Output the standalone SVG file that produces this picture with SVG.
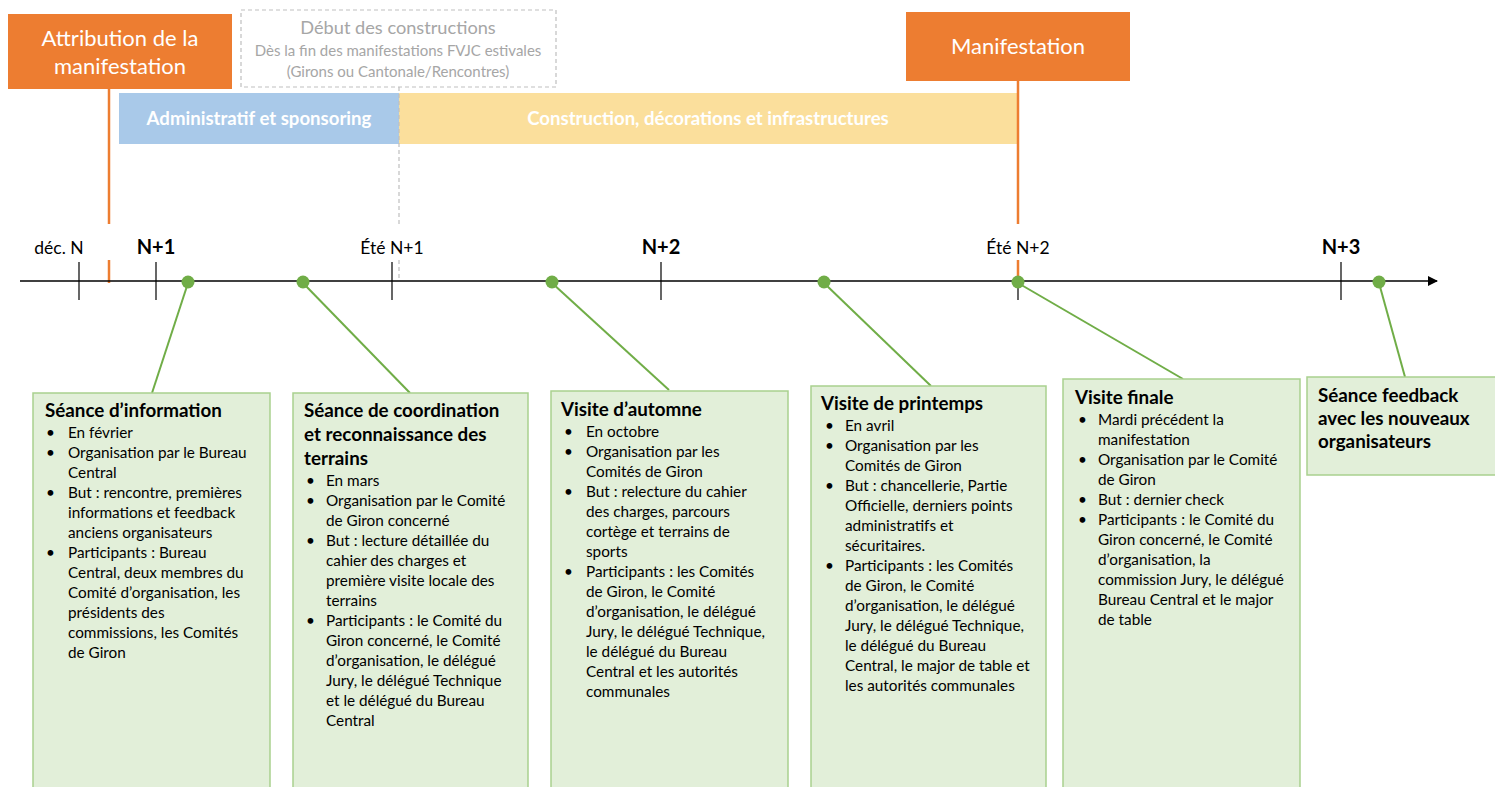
<svg xmlns="http://www.w3.org/2000/svg" width="1495" height="787" viewBox="0 0 1495 787">
<style>
text{font-family:Lato,"Liberation Sans",sans-serif;}
.box{fill:#e2efd9;stroke:#a9d18e;stroke-width:1.5;}
.t{font-size:18.8px;font-weight:bold;fill:#000;}
.b{font-size:15.3px;fill:#000;}
.hdr{font-size:22px;fill:#fff;text-anchor:middle;}
.bar{font-size:18.6px;font-weight:bold;fill:#fff;text-anchor:middle;}
.gray{fill:#a6a6a6;text-anchor:middle;}
.lbl{font-size:17.5px;fill:#000;text-anchor:middle;}
.yr{font-size:20px;font-weight:bold;fill:#000;text-anchor:middle;}
.tick{stroke:#000;stroke-width:1.2;}
.or{stroke:#ed7d31;stroke-width:2.5;}
.dash{stroke:#bfbfbf;stroke-width:1.2;stroke-dasharray:4 3;fill:none;}
.con{stroke:#70ad47;stroke-width:2;}
.dot{fill:#70ad47;}
</style>
<defs>
<marker id="arr" viewBox="0 0 10 10" refX="9" refY="5" markerWidth="10" markerHeight="10" markerUnits="userSpaceOnUse" orient="auto">
<path d="M0,0 L10,5 L0,10 z" fill="#000"/>
</marker>
</defs>
<rect width="1495" height="787" fill="#fff"/>

<g id="phases">
<rect x="119" y="93" width="280" height="51" fill="#a9c9e9"/>
<text class="bar" x="259" y="125">Administratif et sponsoring</text>
<rect x="399" y="93" width="619" height="51" fill="#fbdf9c"/>
<text class="bar" x="708" y="125">Construction, décorations et infrastructures</text>
</g>

<g id="attribution">
<rect x="8" y="14" width="224" height="75" fill="#ed7d31"/>
<text class="hdr" x="120" y="46">Attribution de la</text>
<text class="hdr" x="120" y="74">manifestation</text>
</g>

<g id="debut">
<rect class="dash" x="241" y="10" width="315" height="77"/>
<text class="gray" x="398" y="34" font-size="18.2">Début des constructions</text>
<text class="gray" x="398" y="56" font-size="15">Dès la fin des manifestations FVJC estivales</text>
<text class="gray" x="398" y="77" font-size="15">(Girons ou Cantonale/Rencontres)</text>
</g>

<g id="manifestation">
<rect x="906" y="12" width="224" height="69" fill="#ed7d31"/>
<text class="hdr" x="1018" y="54" font-size="20.6">Manifestation</text>
</g>

<g id="markers">
<line class="or" x1="109" y1="89" x2="109" y2="224"/>
<line class="or" x1="109" y1="260" x2="109" y2="283"/>
<line class="dash" x1="399" y1="87" x2="399" y2="224"/>
<line class="dash" x1="399" y1="260" x2="399" y2="281"/>
<line class="or" x1="1018" y1="81" x2="1018" y2="224"/>
<line class="or" x1="1018" y1="260" x2="1018" y2="281"/>
</g>

<g id="timeline">
<line x1="20" y1="281" x2="1437" y2="281" stroke="#000" stroke-width="1.3" marker-end="url(#arr)"/>
<line class="tick" x1="79" y1="262" x2="79" y2="300"/>
<line class="tick" x1="156" y1="262" x2="156" y2="300"/>
<line class="tick" x1="392" y1="262" x2="392" y2="300"/>
<line class="tick" x1="661" y1="262" x2="661" y2="300"/>
<line class="tick" x1="1018" y1="281" x2="1018" y2="300"/>
<line class="tick" x1="1341" y1="262" x2="1341" y2="300"/>
<text class="lbl" x="59" y="254">déc. N</text>
<text class="yr" x="156" y="254">N+1</text>
<text class="lbl" x="392" y="254">Été N+1</text>
<text class="yr" x="661" y="254">N+2</text>
<text class="lbl" x="1018" y="254">Été N+2</text>
<text class="yr" x="1341" y="254">N+3</text>
</g>

<g id="connectors">
<line class="con" x1="188" y1="283" x2="152" y2="393"/>
<line class="con" x1="303" y1="283" x2="410" y2="393"/>
<line class="con" x1="552" y1="283" x2="669" y2="390"/>
<line class="con" x1="824" y1="283" x2="931" y2="386"/>
<line class="con" x1="1018" y1="283" x2="1183" y2="379"/>
<line class="con" x1="1379" y1="283" x2="1405" y2="377"/>
<circle class="dot" cx="188" cy="282" r="6.5"/>
<circle class="dot" cx="303" cy="282" r="6.5"/>
<circle class="dot" cx="552" cy="282" r="6.5"/>
<circle class="dot" cx="824" cy="282" r="6.5"/>
<circle class="dot" cx="1018" cy="282" r="6.5"/>
<circle class="dot" cx="1379" cy="282" r="6.5"/>
</g>

<g id="seance-information">
<rect class="box" x="33" y="393" width="237" height="400"/>
<text class="t" x="45" y="417">Séance d’information</text>
<g class="b">
<text x="46" y="438">•</text><text x="68" y="438">En février</text>
<text x="46" y="458">•</text><text x="68" y="458">Organisation par le Bureau</text>
<text x="68" y="478">Central</text>
<text x="46" y="498">•</text><text x="68" y="498">But : rencontre, premières</text>
<text x="68" y="518">informations et feedback</text>
<text x="68" y="538">anciens organisateurs</text>
<text x="46" y="558">•</text><text x="68" y="558">Participants : Bureau</text>
<text x="68" y="578">Central, deux membres du</text>
<text x="68" y="598">Comité d’organisation, les</text>
<text x="68" y="618">présidents des</text>
<text x="68" y="638">commissions, les Comités</text>
<text x="68" y="658">de Giron</text>
</g>
</g>

<g id="seance-coordination">
<rect class="box" x="293" y="393" width="235" height="400"/>
<text class="t" x="304" y="417">Séance de coordination</text>
<text class="t" x="304" y="441">et reconnaissance des</text>
<text class="t" x="304" y="465">terrains</text>
<g class="b">
<text x="306" y="486">•</text><text x="326" y="486">En mars</text>
<text x="306" y="506">•</text><text x="326" y="506">Organisation par le Comité</text>
<text x="326" y="526">de Giron concerné</text>
<text x="306" y="546">•</text><text x="326" y="546">But : lecture détaillée du</text>
<text x="326" y="566">cahier des charges et</text>
<text x="326" y="586">première visite locale des</text>
<text x="326" y="606">terrains</text>
<text x="306" y="626">•</text><text x="326" y="626">Participants : le Comité du</text>
<text x="326" y="646">Giron concerné, le Comité</text>
<text x="326" y="666">d’organisation, le délégué</text>
<text x="326" y="686">Jury, le délégué Technique</text>
<text x="326" y="706">et le délégué du Bureau</text>
<text x="326" y="726">Central</text>
</g>
</g>

<g id="visite-automne">
<rect class="box" x="551" y="391" width="237" height="402"/>
<text class="t" x="561" y="416">Visite d’automne</text>
<g class="b">
<text x="564" y="437">•</text><text x="586" y="437">En octobre</text>
<text x="564" y="457">•</text><text x="586" y="457">Organisation par les</text>
<text x="586" y="477">Comités de Giron</text>
<text x="564" y="497">•</text><text x="586" y="497">But : relecture du cahier</text>
<text x="586" y="517">des charges, parcours</text>
<text x="586" y="537">cortège et terrains de</text>
<text x="586" y="557">sports</text>
<text x="564" y="577">•</text><text x="586" y="577">Participants : les Comités</text>
<text x="586" y="597">de Giron, le Comité</text>
<text x="586" y="617">d’organisation, le délégué</text>
<text x="586" y="637">Jury, le délégué Technique,</text>
<text x="586" y="657">le délégué du Bureau</text>
<text x="586" y="677">Central et les autorités</text>
<text x="586" y="697">communales</text>
</g>
</g>

<g id="visite-printemps">
<rect class="box" x="811" y="386" width="235" height="407"/>
<text class="t" x="821" y="410">Visite de printemps</text>
<g class="b">
<text x="825" y="431">•</text><text x="845" y="431">En avril</text>
<text x="825" y="451">•</text><text x="845" y="451">Organisation par les</text>
<text x="845" y="471">Comités de Giron</text>
<text x="825" y="491">•</text><text x="845" y="491">But : chancellerie, Partie</text>
<text x="845" y="511">Officielle, derniers points</text>
<text x="845" y="531">administratifs et</text>
<text x="845" y="551">sécuritaires.</text>
<text x="825" y="571">•</text><text x="845" y="571">Participants : les Comités</text>
<text x="845" y="591">de Giron, le Comité</text>
<text x="845" y="611">d’organisation, le délégué</text>
<text x="845" y="631">Jury, le délégué Technique,</text>
<text x="845" y="651">le délégué du Bureau</text>
<text x="845" y="671">Central, le major de table et</text>
<text x="845" y="691">les autorités communales</text>
</g>
</g>

<g id="visite-finale">
<rect class="box" x="1063" y="379" width="237" height="414"/>
<text class="t" x="1075" y="404">Visite finale</text>
<g class="b">
<text x="1078" y="425">•</text><text x="1098" y="425">Mardi précédent la</text>
<text x="1098" y="445">manifestation</text>
<text x="1078" y="465">•</text><text x="1098" y="465">Organisation par le Comité</text>
<text x="1098" y="485">de Giron</text>
<text x="1078" y="505">•</text><text x="1098" y="505">But : dernier check</text>
<text x="1078" y="525">•</text><text x="1098" y="525">Participants : le Comité du</text>
<text x="1098" y="545">Giron concerné, le Comité</text>
<text x="1098" y="565">d’organisation, la</text>
<text x="1098" y="585">commission Jury, le délégué</text>
<text x="1098" y="605">Bureau Central et le major</text>
<text x="1098" y="625">de table</text>
</g>
</g>

<g id="seance-feedback">
<rect class="box" x="1307" y="377" width="195" height="98"/>
<text class="t" x="1318" y="402">Séance feedback</text>
<text class="t" x="1318" y="425">avec les nouveaux</text>
<text class="t" x="1318" y="448">organisateurs</text>
</g>
</svg>
